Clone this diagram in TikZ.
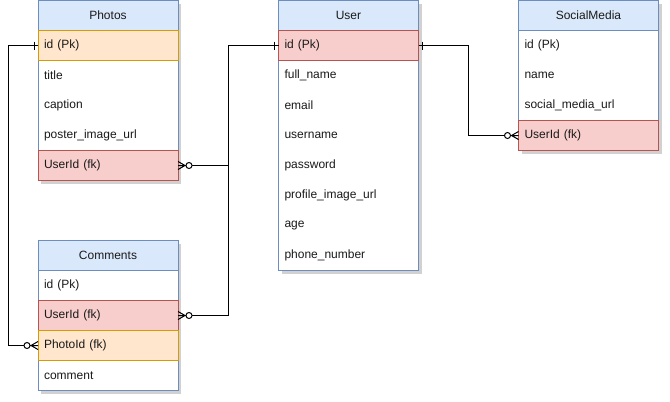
\documentclass[tikz,border=0pt]{standalone}
\usepackage{fontspec}
\setmainfont{Liberation Sans}
\usetikzlibrary{positioning,backgrounds}
\definecolor{hdrfill}{HTML}{DAE8FC}
\definecolor{hdrline}{HTML}{6C8EBF}
\definecolor{pkfill}{HTML}{FFE6CC}
\definecolor{pkline}{HTML}{D79B00}
\definecolor{fkfill}{HTML}{F8CECC}
\definecolor{fkline}{HTML}{B85450}
\definecolor{txt}{HTML}{1A1A1A}
\tikzset{
  cell/.style={rectangle, minimum width=140pt, minimum height=30pt, inner xsep=6pt, inner ysep=0pt,
    outer sep=0pt, text width=128pt, font=\fontsize{12}{14}\selectfont, text=txt, line width=1pt},
  hdr/.style={cell, align=center, fill=hdrfill, draw=hdrline, anchor=north west},
  plainrow/.style={cell, align=left, below=0pt of #1},
  pkrow/.style={plainrow=#1, fill=pkfill, draw=pkline},
  fkrow/.style={plainrow=#1, fill=fkfill, draw=fkline},
  frame/.style={draw=hdrline, fill=white, line width=1pt},
  shadowbox/.style={fill=black, opacity=0.18},
  conn/.style={draw=black, line width=1pt},
  zmany/.pic={
    \draw[conn] (-7,0) -- (0,4) (-7,0) -- (0,-4) (-8,0) -- (0,0);
    \draw[conn, fill=white] (-11,0) circle (3);
  },
  onemark/.pic={
    \draw[conn] (-4,-4) -- (-4,4);
  },
}
\begin{document}
\begin{tikzpicture}[x=1pt,y=-1pt]
\useasboundingbox (0,0) rectangle (670,402);
% Photos
\node[hdr] (photos) at (38,0.5) {Photos};
\node[pkrow=photos] (ph-id) {id (Pk)};
\node[plainrow=ph-id] (ph-title) {title};
\node[plainrow=ph-title] (ph-cap) {caption};
\node[plainrow=ph-cap] (ph-url) {poster\_image\_url};
\node[fkrow=ph-url] (ph-uid) {UserId (fk)};
% Comments
\node[hdr] (comments) at (38,240.5) {Comments};
\node[plainrow=comments] (co-id) {id (Pk)};
\node[fkrow=co-id] (co-uid) {UserId (fk)};
\node[pkrow=co-uid] (co-pid) {PhotoId (fk)};
\node[plainrow=co-pid] (co-com) {comment};
% User
\node[hdr] (user) at (278.5,0.5) {User};
\node[fkrow=user] (us-id) {id (Pk)};
\node[plainrow=us-id] (us-name) {full\_name};
\node[plainrow=us-name] (us-mail) {email};
\node[plainrow=us-mail] (us-uname) {username};
\node[plainrow=us-uname] (us-pw) {password};
\node[plainrow=us-pw] (us-img) {profile\_image\_url};
\node[plainrow=us-img] (us-age) {age};
\node[plainrow=us-age] (us-phone) {phone\_number};
% SocialMedia
\node[hdr] (social) at (518.5,0.5) {SocialMedia};
\node[plainrow=social] (so-id) {id (Pk)};
\node[plainrow=so-id] (so-name) {name};
\node[plainrow=so-name] (so-url) {social\_media\_url};
\node[fkrow=so-url] (so-uid) {UserId (fk)};
% frames and shadows
\begin{pgfonlayer}{background}
  \foreach \a/\b in {photos/ph-uid, comments/co-com, user/us-phone, social/so-uid}{
    \fill[shadowbox] ([shift={(3,3)}]\a.north west) rectangle ([shift={(3,3)}]\b.south east);
    \draw[frame] (\a.north west) rectangle (\b.south east);
  }
\end{pgfonlayer}
% connectors
\coordinate (lbus) at (8,0);
\coordinate (mbus) at (228.5,0);
\coordinate (rbus) at (468.5,0);
\draw[conn] (ph-id.west) -- (ph-id.west -| lbus) |- ([xshift=-8pt]co-pid.west);
\draw[conn] ([xshift=8pt]ph-uid.east) -- (ph-uid.east -| mbus) |- (us-id.west);
\draw[conn] ([xshift=8pt]co-uid.east) -- (co-uid.east -| mbus) -- (ph-uid.east -| mbus);
\draw[conn] (us-id.east) -- (us-id.east -| rbus) |- ([xshift=-8pt]so-uid.west);
\pic at (ph-id.west) {onemark};
\pic at (us-id.west) {onemark};
\pic at (us-id.east) [xscale=-1] {onemark};
\pic at (co-pid.west) {zmany};
\pic at (so-uid.west) {zmany};
\pic at (ph-uid.east) [xscale=-1] {zmany};
\pic at (co-uid.east) [xscale=-1] {zmany};
\end{tikzpicture}
\end{document}
